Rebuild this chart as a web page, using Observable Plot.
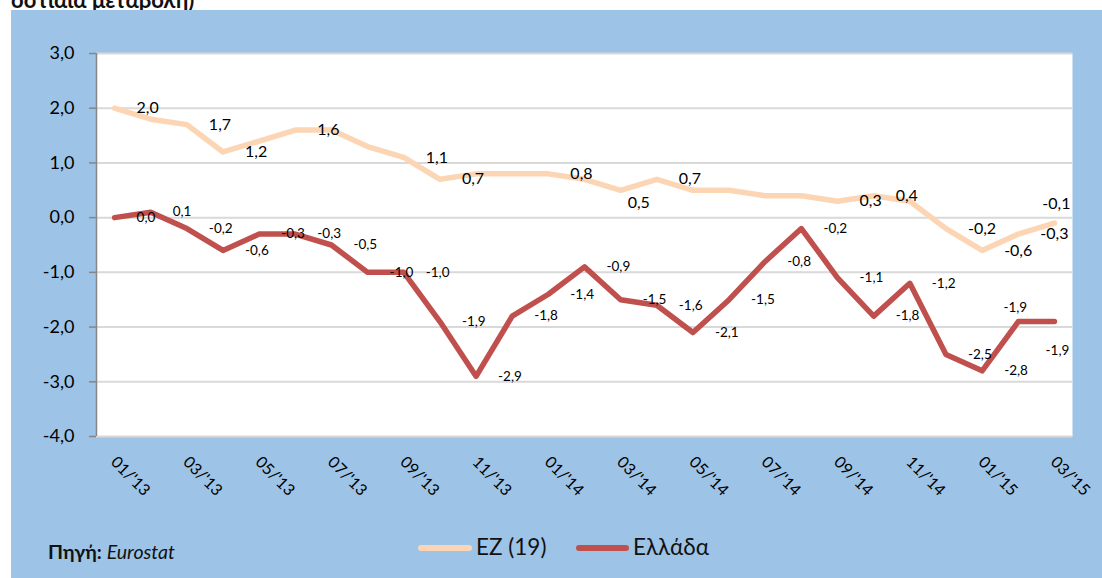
<!DOCTYPE html>
<html><head><meta charset="utf-8">
<script src="https://cdn.jsdelivr.net/npm/d3@7"></script>
<script src="https://cdn.jsdelivr.net/npm/@observablehq/plot@0.6"></script>
<style>
html,body{margin:0;padding:0;background:#fff;}
body{width:1102px;height:578px;overflow:hidden;position:relative;font-family:Lato,"Open Sans",sans-serif;color:#000;}
#title{position:absolute;left:0;top:0;}
#panel{position:absolute;left:11px;top:10px;width:1091px;height:568px;background:#9DC3E6;}
#chart{position:absolute;left:0;top:0;}
#legend{position:absolute;left:0;top:522px;width:1091px;height:30px;}
#source{position:absolute;left:37px;top:530px;font-size:19.5px;color:#111;}
.sw{position:absolute;height:6px;border-radius:3px;top:13px;}
.lt{position:absolute;top:0;font-size:22.5px;line-height:30px;color:#111;}
</style></head>
<body>
<svg id="title" width="320" height="10"><text x="11" y="8" font-size="22" font-weight="bold" font-family="Lato, 'Open Sans', sans-serif" fill="#111">οστιαία μεταβολή)</text></svg>
<div id="panel">
  <div id="chart"></div>
  <div id="legend"></div>
  <div id="source"><b>Πηγή:</b> <i>Eurostat</i></div>
</div>
<script>
// ---- data ----
const months = ["01/'13","02/'13","03/'13","04/'13","05/'13","06/'13","07/'13","08/'13","09/'13","10/'13","11/'13","12/'13",
  "01/'14","02/'14","03/'14","04/'14","05/'14","06/'14","07/'14","08/'14","09/'14","10/'14","11/'14","12/'14",
  "01/'15","02/'15","03/'15"];
const xTickLabels = ["01/'13","03/'13","05/'13","07/'13","09/'13","11/'13","01/'14","03/'14","05/'14","07/'14","09/'14","11/'14","01/'15","03/'15"];
const ez = [2.0,1.8,1.7,1.2,1.4,1.6,1.6,1.3,1.1,0.7,0.8,0.8,0.8,0.7,0.5,0.7,0.5,0.5,0.4,0.4,0.3,0.4,0.3,-0.2,-0.6,-0.3,-0.1];
const greece = [0.0,0.1,-0.2,-0.6,-0.3,-0.3,-0.5,-1.0,-1.0,-1.9,-2.9,-1.8,-1.4,-0.9,-1.5,-1.6,-2.1,-1.5,-0.8,-0.2,-1.1,-1.8,-1.2,-2.5,-2.8,-1.9,-1.9];
const yTicks = [-4,-3,-2,-1,0,1,2,3];
const seriesNames = ["EZ (19)","Ελλάδα"];
const colors = ["#FCD5B5","#C0504D"];
// which points carry a data label
const ezLabelMonths = ["01/'13","03/'13","04/'13","06/'13","09/'13","10/'13","01/'14","03/'14","04/'14","09/'14","10/'14","12/'14","01/'15","02/'15","03/'15"];

// ---- build ----
const fmt = v => v.toFixed(1).replace(".", ",");
const rows = (vals, s) => vals.map((v,i)=>({i, m: months[i], v, s}));
const ezRows = rows(ez, seriesNames[0]);
const grRows = rows(greece, seriesNames[1]);
const xIdx = l => months.indexOf(l);

// label placements (style)
const ezPlace = {"03/'15":"above","03/'14":"rightBelow"};
const grPlace = {"02/'15":"above","03/'15":"below"};
const ezLab = ezRows.filter(d=>ezLabelMonths.includes(d.m)).map(d=>({...d, p: ezPlace[d.m]||"right"}));
const grLab = grRows.map(d=>({...d, p: grPlace[d.m]||"right"}));

const lblFont = "Lato, 'Open Sans', sans-serif";
function labelMarks(data, size){
  const base = {x:"i", y:"v", text: d=>fmt(d.v), fontSize:size, fill:"#000", lineAnchor:"middle"};
  return [
    Plot.text(data.filter(d=>d.p==="right"), {...base, textAnchor:"start", dx:22}),
    Plot.text(data.filter(d=>d.p==="rightBelow"), {...base, textAnchor:"start", dx:7, dy:13}),
    Plot.text(data.filter(d=>d.p==="above"), {...base, textAnchor:"middle", dx:size>15?2:-3, dy:size>15?-19:-14}),
    Plot.text(data.filter(d=>d.p==="below"), {...base, textAnchor:"middle", dx:3, dy:29}),
  ];
}

const chart = Plot.plot({
  width: 1091, height: 500,
  marginLeft: 85, marginTop: 43, marginRight: 30, marginBottom: 74,
  style: {background:"transparent", fontFamily: lblFont, overflow:"visible"},
  x: {domain:[-0.5, 26.5], axis: null},
  y: {domain:[-4, 3], axis: null},
  marks: [
    Plot.frame({fill:"white", stroke:"none"}),
    Plot.gridY(yTicks, {stroke:"#d9d9d9", strokeOpacity:1, strokeWidth:2}),
    Plot.axisY(yTicks, {tickSize:7, tickPadding:15, fontSize:18, stroke:"#868686", strokeWidth:1.5, fill:"#000",
      tickFormat: fmt, anchor:"left", label:null}),
    Plot.ruleX([-0.5], {stroke:"#868686", strokeWidth:1.5}),
    Plot.line(ezRows, {x:"i", y:"v", stroke: colors[0], strokeWidth:5.5, strokeLinejoin:"round", strokeLinecap:"round"}),
    Plot.line(grRows, {x:"i", y:"v", stroke: colors[1], strokeWidth:5.5, strokeLinejoin:"round", strokeLinecap:"round"}),
    ...labelMarks(ezLab, 16),
    ...labelMarks(grLab, 13.5),
    Plot.text(xTickLabels, {x: d=>xIdx(d), text: d=>d, frameAnchor:"bottom", dy:23, dx:-1, rotate:45,
      textAnchor:"start", lineAnchor:"middle", fontSize:16, fill:"#000"})
  ]
});
document.getElementById("chart").appendChild(chart);

// legend
const leg = document.getElementById("legend");
const legItems = [
  {name: seriesNames[0], color: colors[0], sx: 407, sw: 54, tx: 465},
  {name: seriesNames[1], color: colors[1], sx: 565, sw: 53, tx: 622},
];
legItems.forEach(it=>{
  const s = document.createElement("div"); s.className="sw";
  s.style.left = it.sx+"px"; s.style.width = it.sw+"px"; s.style.background = it.color;
  leg.appendChild(s);
  const t = document.createElement("div"); t.className="lt";
  t.style.left = it.tx+"px"; t.textContent = it.name;
  leg.appendChild(t);
});
</script>
</body></html>
